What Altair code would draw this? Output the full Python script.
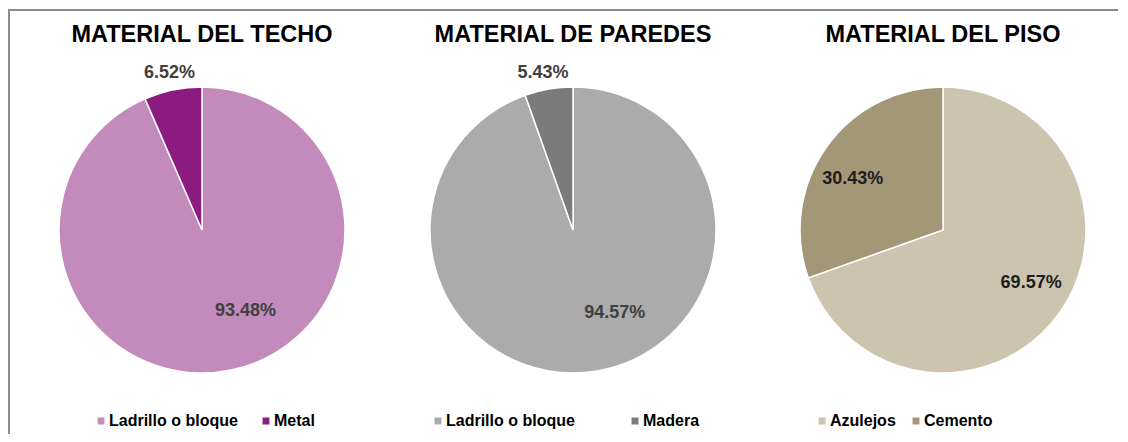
import altair as alt
import pandas as pd

# ---- data ----
titles = ["MATERIAL DEL TECHO", "MATERIAL DE PAREDES", "MATERIAL DEL PISO"]
techo_cats = ["Ladrillo o bloque", "Metal"]
techo_vals = [93.48, 6.52]
paredes_cats = ["Ladrillo o bloque", "Madera"]
paredes_vals = [94.57, 5.43]
piso_cats = ["Azulejos", "Cemento"]
piso_vals = [69.57, 30.43]

# ---- style ----
FONT = "Liberation Sans"
techo_colors = ["#C38BBB", "#8C1B80"]
paredes_colors = ["#ABABAB", "#7B7B7B"]
piso_colors = ["#CDC4AF", "#A49778"]
W, H = 1110, 426
R = 143
CY = 222
THETA_DOM = [0, 100]


def pie(cats, vals, colors, title, cx, legend_x, col_pad, labels, label_color):
    df = pd.DataFrame({"cat": cats, "val": vals, "idx": list(range(len(cats)))})
    base = alt.Chart(df)
    arc = base.mark_arc(outerRadius=R, stroke="white", strokeWidth=1.5).encode(
        theta=alt.Theta("val:Q", stack=True, scale=alt.Scale(domain=THETA_DOM)),
        color=alt.Color(
            "cat:N",
            sort=cats,
            scale=alt.Scale(domain=cats, range=colors),
            legend=alt.Legend(
                title=None,
                orient="none",
                legendX=legend_x,
                legendY=405,
                direction="horizontal",
                symbolType="square",
                symbolSize=70,
                labelFont=FONT,
                labelFontSize=16,
                labelFontWeight="bold",
                labelColor="#000000",
                labelOffset=0,
                columnPadding=col_pad,
            ),
        ),
        order=alt.Order("idx:Q"),
        x=alt.value(cx),
        y=alt.value(CY),
    )
    layers = [arc]
    for cat, rad, dx, dy in labels:
        lab = (
            base.transform_window(cum="sum(val)", sort=[alt.SortField("idx")])
            .transform_calculate(
                mid="datum.cum - datum.val / 2",
                lbl="format(datum.val, '.2f') + '%'",
            )
            .transform_filter(alt.datum.cat == cat)
            .mark_text(
                radius=rad, dx=dx, dy=dy, font=FONT, fontSize=18,
                fontWeight="bold", color=label_color, baseline="middle",
                align="center",
            )
            .encode(
                theta=alt.Theta("mid:Q", stack=False, scale=alt.Scale(domain=THETA_DOM)),
                text="lbl:N",
                x=alt.value(cx),
                y=alt.value(CY),
            )
        )
        layers.append(lab)
    ttl = alt.Chart(pd.DataFrame({"t": [title]})).mark_text(
        font=FONT, fontSize=23.5, fontWeight="bold", color="#000000",
        baseline="alphabetic", align="center",
    ).encode(text="t:N", x=alt.value(cx), y=alt.value(34))
    layers.append(ttl)
    return alt.layer(*layers)


p1 = pie(techo_cats, techo_vals, techo_colors, titles[0], 194, 85, 20,
         [("Metal", 160, 0, 0), ("Ladrillo o bloque", 91, 25, -8)], "#404040")
p2 = pie(paredes_cats, paredes_vals, paredes_colors, titles[1], 565, 422, 52,
         [("Madera", 159, -3, 0), ("Ladrillo o bloque", 93, 26, -9)], "#404040")
p3 = pie(piso_cats, piso_vals, piso_colors, titles[2], 935, 806, 12,
         [("Azulejos", 103, 4, -6), ("Cemento", 103, -6, 8)], "#1E1E1E")

frame_df = pd.DataFrame({"a": [0]})
frame_left = alt.Chart(frame_df).mark_rule(color="#8C8C8C", strokeWidth=2).encode(
    x=alt.value(1), y=alt.value(1), y2=alt.value(H)
)
frame_top = alt.Chart(frame_df).mark_rule(color="#8C8C8C", strokeWidth=2).encode(
    x=alt.value(0), x2=alt.value(W), y=alt.value(2)
)

chart = (
    alt.layer(frame_left, frame_top, p1, p2, p3)
    .resolve_scale(color="independent")
    .properties(width=W, height=H, autosize=alt.AutoSizeParams(type="none"), padding=0,
                background="white")
    .configure_view(strokeWidth=0)
)

chart.save("out.html", embed_options={"renderer": "svg", "actions": False})
